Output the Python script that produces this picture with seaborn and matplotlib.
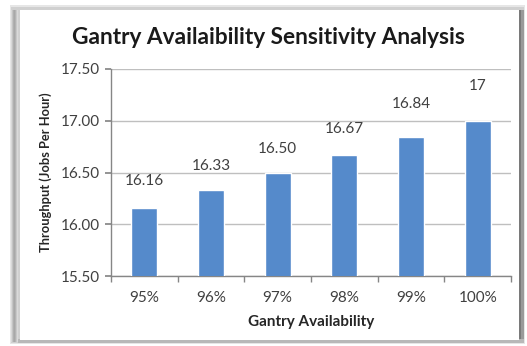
import matplotlib
matplotlib.use("Agg")
import matplotlib.pyplot as plt
from matplotlib.patches import Rectangle
import seaborn as sns
import pandas as pd
import numpy as np

# Throughput by gantry availability
categories = ["95%", "96%", "97%", "98%", "99%", "100%"]
throughput = [16.16, 16.33, 16.50, 16.67, 16.84, 17.0]
value_labels = ["16.16", "16.33", "16.50", "16.67", "16.84", "17"]
y_ticks = [15.50, 16.00, 16.50, 17.00, 17.50]

df = pd.DataFrame({"availability": categories, "throughput": throughput})

sns.set_theme(style="white")
plt.rcParams["font.family"] = ["Lato", "DejaVu Sans"]

fig = plt.figure(figsize=(5.27, 3.46), dpi=100)
W, H = 527, 346

def box(x0, y0, x1, y1, color, z=0):
    fig.patches.append(Rectangle((x0 / W, 1 - y1 / H), (x1 - x0) / W, (y1 - y0) / H,
                                 transform=fig.transFigure, color=color, zorder=z, lw=0))

# framed card with a soft shadow
box(10, 5, 525, 344, "#e6e6e6")
box(11, 7, 524, 343, "#d0d0d0")
for i, c in enumerate(["#d8d8d8", "#c4c4c4", "#b0b0b0", "#a8a8a8", "#b4b4b4", "#c8c8c8", "#dadada"]):
    box(11 + i, 10, 12 + i, 342, c)
box(518, 10, 524, 342, "#9a9a9a")
box(519, 10, 521, 342, "#7a7a7a")
box(18, 339, 524, 343, "#b8b8b8")
box(20, 10, 519, 340, "#ffffff")

ax = fig.add_axes([111 / W, 1 - 276 / H, 400 / W, 207 / H])
ax.set_zorder(2)
ax.patch.set_alpha(0)

sns.barplot(data=df, x="availability", y="throughput", color="#558ACB",
            saturation=1, width=0.39, ax=ax, zorder=3)

ax.set_ylim(15.5, 17.5)
ax.set_xlim(-0.5, len(categories) - 0.5)
ax.set_yticks(y_ticks)
ax.set_yticklabels([f"{v:.2f}" for v in y_ticks])
ax.yaxis.grid(True, color="#bfbfbf", lw=1)
ax.set_axisbelow(True)

# value labels above each bar
offsets = [19, 17, 17, 19, 24, 25]
for i, (v, lab) in enumerate(zip(throughput, value_labels)):
    ax.annotate(lab, (i, v), xytext=(0, offsets[i]), textcoords="offset points",
                ha="center", va="center", fontsize=11, color="#404040")

for s in ["top", "right"]:
    ax.spines[s].set_visible(False)
for s in ["left", "bottom"]:
    ax.spines[s].set_color("#868686")
    ax.spines[s].set_linewidth(1)

ax.set_xticks(np.arange(-0.5, len(categories)), minor=True)
ax.tick_params(axis="x", which="major", length=0, pad=11, labelsize=11, labelcolor="#404040")
ax.tick_params(axis="x", which="minor", length=4, color="#868686", direction="out", bottom=True)
ax.tick_params(axis="y", length=4, color="#868686", direction="out", left=True,
               pad=4, labelsize=11, labelcolor="#404040")

ax.set_xlabel("Gantry Availability", fontsize=11, fontweight="bold", color="#262626", labelpad=7)
ax.set_ylabel("Throughput (Jobs Per Hour)", fontsize=9.3, fontweight="bold", color="#262626", labelpad=6)

fig.text(268 / W, 1 - 38 / H, "Gantry Availaibility Sensitivity Analysis", ha="center", va="center",
         fontsize=16.3, fontweight="bold", color="#1a1a1a")

fig.savefig("out.png", dpi=100)
